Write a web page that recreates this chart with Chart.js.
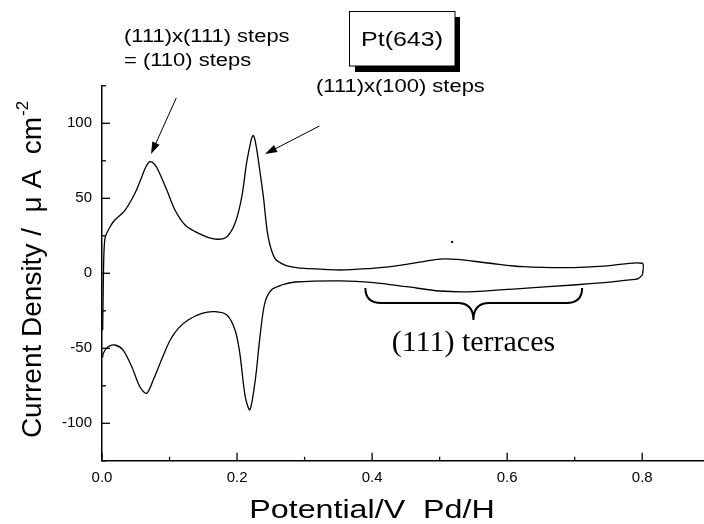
<!DOCTYPE html>
<html><head><meta charset="utf-8">
<script src="https://cdn.jsdelivr.net/npm/chart.js@4.4.1/dist/chart.umd.min.js"></script>
<style>html,body{margin:0;padding:0;background:#fff;}canvas{display:block;}</style>
</head><body>
<canvas id="c" width="704" height="524"></canvas>
<script>
// ---- data ----
const anodicPotential = [0.001,0.002,0.003,0.005,0.012,0.019,0.034,0.049,0.059,0.065,0.071,0.077,0.083,0.096,0.108,0.123,0.138,0.157,0.172,0.185,0.197,0.207,0.214,0.219,0.222,0.224,0.226,0.229,0.232,0.239,0.246,0.256,0.271,0.286,0.30,0.353,0.40,0.427,0.476,0.50,0.525,0.575,0.624,0.698,0.748,0.80,0.8005];
const anodicCurrent   = [-38,-5,15,24.4,31,35.5,42,53.5,64.4,71,74.4,73,68.9,55.5,42.2,32.2,27.8,24,22.7,24.4,33.3,51,73.3,85,90.5,92,90,83,74,51,24.4,10,5.5,4,3.3,2.2,3.3,4.4,7.8,9.5,9.3,6.7,4.4,3.8,4.9,6.7,-1];
const cathodicPotential = [0.8005,0.794,0.777,0.748,0.698,0.624,0.55,0.50,0.451,0.402,0.353,0.286,0.266,0.251,0.241,0.234,0.227,0.219,0.212,0.204,0.197,0.185,0.167,0.148,0.128,0.113,0.101,0.088,0.076,0.066,0.056,0.044,0.031,0.019,0.009,0.002,0.001];
const cathodicCurrent   = [-1,-3.5,-4.6,-6,-7.8,-10,-12.2,-11.8,-8.9,-6.2,-5,-5.8,-7.8,-11,-20,-42,-71,-91,-82,-53,-37.8,-27.8,-25.6,-26.7,-31,-36.7,-44.5,-57.8,-71,-80,-75.6,-62.2,-51,-47.8,-49,-53.3,-56];
const xMajorTicks = [0.0,0.2,0.4,0.6,0.8];
const xMinorTicks = [0.1,0.3,0.5,0.7];
const yMajorTicks = [-100,-50,0,50,100];
const yMinorTicks = [-125,-75,-25,25,75,125];
const xTitle = 'Potential/V  Pd/H';
const yTitle = 'Current Density /  \u03bc A  cm';
const yTitleSup = '-2';
const sampleLabel = 'Pt(643)';
const stepLabel1 = ['(111)x(111) steps', '= (110) steps'];
const stepLabel2 = '(111)x(100) steps';
const terraceLabel = '(111) terraces';

const SANS = "'Liberation Sans', Arial, sans-serif";
const SERIF = "'Liberation Serif', 'Times New Roman', serif";

function stretchedText(ctx, txt, px, py, font, sx, align) {
  ctx.save();
  ctx.font = font;
  ctx.textBaseline = 'alphabetic';
  ctx.textAlign = 'left';
  const w = ctx.measureText(txt).width * sx;
  const left = align === 'center' ? px - w / 2 : (align === 'right' ? px - w : px);
  ctx.translate(left, py);
  ctx.scale(sx, 1);
  ctx.fillText(txt, 0, 0);
  ctx.restore();
}
function arrow(ctx, x1, y1, x2, y2) {
  const a = Math.atan2(y2 - y1, x2 - x1);
  const L = 12, H = 4;
  ctx.beginPath();
  ctx.moveTo(x1, y1);
  ctx.lineTo(x2 - L * Math.cos(a) * 0.8, y2 - L * Math.sin(a) * 0.8);
  ctx.stroke();
  ctx.beginPath();
  ctx.moveTo(x2, y2);
  ctx.lineTo(x2 - L * Math.cos(a) + H * Math.sin(a), y2 - L * Math.sin(a) - H * Math.cos(a));
  ctx.lineTo(x2 - L * Math.cos(a) - H * Math.sin(a), y2 - L * Math.sin(a) + H * Math.cos(a));
  ctx.closePath();
  ctx.fill();
}

const decor = {
  id: 'decor',
  afterDraw(chart) {
    const { ctx, chartArea: ca, scales: { x, y } } = chart;
    ctx.save();
    ctx.strokeStyle = '#000';
    ctx.fillStyle = '#000';
    // inward tick marks
    ctx.lineWidth = 1.3;
    const tick = (px, py, dx, dy) => { ctx.beginPath(); ctx.moveTo(px, py); ctx.lineTo(px + dx, py + dy); ctx.stroke(); };
    xMajorTicks.forEach(v => tick(x.getPixelForValue(v), ca.bottom, 0, -8));
    xMinorTicks.forEach(v => tick(x.getPixelForValue(v), ca.bottom, 0, -4));
    yMajorTicks.forEach(v => tick(ca.left, y.getPixelForValue(v), 8, 0));
    yMinorTicks.forEach(v => tick(ca.left, y.getPixelForValue(v), 4, 0));

    // axis titles
    stretchedText(ctx, xTitle, 372, 518, '26px ' + SANS, 1.24, 'center');
    ctx.save();
    ctx.font = '28px ' + SANS;
    const wm = ctx.measureText(yTitle).width;
    ctx.font = '17px ' + SANS;
    const ws = ctx.measureText(yTitleSup).width;
    ctx.translate(41, 270 + (wm + ws) / 2);
    ctx.rotate(-Math.PI / 2);
    ctx.textAlign = 'left';
    ctx.textBaseline = 'alphabetic';
    ctx.font = '28px ' + SANS;
    ctx.fillText(yTitle, 0, 0);
    ctx.font = '17px ' + SANS;
    ctx.fillText(yTitleSup, wm + 1, -13);
    ctx.restore();

    // step labels
    stretchedText(ctx, stepLabel1[0], 124, 42, '18px ' + SANS, 1.22, 'left');
    stretchedText(ctx, stepLabel1[1], 124, 66, '18px ' + SANS, 1.22, 'left');
    stretchedText(ctx, stepLabel2, 316, 92, '18px ' + SANS, 1.22, 'left');

    // sample box with shadow
    ctx.fillRect(355, 66, 105, 6);
    ctx.fillRect(455, 17, 5, 55);
    ctx.fillStyle = '#fff';
    ctx.fillRect(349.5, 11.5, 105.5, 54.5);
    ctx.fillStyle = '#000';
    ctx.lineWidth = 1;
    ctx.strokeRect(349.5, 11.5, 105.5, 54.5);
    stretchedText(ctx, sampleLabel, 402, 46, '20px ' + SANS, 1.25, 'center');

    // arrows (anchored in data space)
    ctx.lineWidth = 1;
    arrow(ctx, x.getPixelForValue(0.11), y.getPixelForValue(116.9), x.getPixelForValue(0.0726), y.getPixelForValue(79.5));
    arrow(ctx, x.getPixelForValue(0.322), y.getPixelForValue(98.2), x.getPixelForValue(0.2415), y.getPixelForValue(79.5));

    // small dot
    ctx.fillRect(x.getPixelForValue(0.5185) - 1, y.getPixelForValue(20.9) - 1, 2, 2);

    // brace
    const L = x.getPixelForValue(0.39), R = x.getPixelForValue(0.711), C = x.getPixelForValue(0.55);
    const yTop = y.getPixelForValue(-9.8), yMid = y.getPixelForValue(-19.8), yTip = y.getPixelForValue(-31.1);
    ctx.lineWidth = 2;
    ctx.beginPath();
    ctx.moveTo(L, yTop);
    ctx.quadraticCurveTo(L, yMid, L + 16, yMid);
    ctx.lineTo(C - 16, yMid);
    ctx.quadraticCurveTo(C, yMid, C, yTip);
    ctx.quadraticCurveTo(C, yMid, C + 16, yMid);
    ctx.lineTo(R - 16, yMid);
    ctx.quadraticCurveTo(R, yMid, R, yTop);
    ctx.stroke();

    ctx.font = '30px ' + SERIF;
    ctx.textAlign = 'center';
    ctx.textBaseline = 'alphabetic';
    ctx.fillText(terraceLabel, C, y.getPixelForValue(-51.8));
    ctx.restore();
  }
};

const toPts = (xs, ys) => xs.map((v, i) => ({ x: v, y: ys[i] }));
const lineStyle = { showLine: true, borderColor: '#000', borderWidth: 1.3, pointRadius: 0, tension: 0.3, fill: false };

new Chart(document.getElementById('c'), {
  type: 'scatter',
  data: {
    datasets: [
      Object.assign({ label: 'anodic', data: toPts(anodicPotential, anodicCurrent) }, lineStyle),
      Object.assign({ label: 'cathodic', data: toPts(cathodicPotential, cathodicCurrent) }, lineStyle)
    ]
  },
  options: {
    responsive: false,
    animation: false,
    events: [],
    layout: { padding: { top: 85.8, right: 1, left: 0, bottom: 0 } },
    plugins: { legend: { display: false }, tooltip: { enabled: false } },
    scales: {
      x: {
        type: 'linear', min: 0, max: 0.89,
        afterFit(s) { s.height = 63.2; },
        afterBuildTicks(s) { s.ticks = xMajorTicks.map(v => ({ value: v })); },
        ticks: { callback: v => v.toFixed(1), font: { family: SANS, size: 15 }, color: '#000', padding: 8, maxRotation: 0, autoSkip: false },
        grid: { display: false, drawTicks: false },
        border: { display: true, color: '#000', width: 1.5 }
      },
      y: {
        type: 'linear', min: -125, max: 125,
        afterFit(s) { s.width = 102; },
        afterBuildTicks(s) { s.ticks = yMajorTicks.map(v => ({ value: v })); },
        ticks: { callback: v => String(v), font: { family: SANS, size: 15 }, color: '#000', padding: 10, autoSkip: false },
        grid: { display: false, drawTicks: false },
        border: { display: true, color: '#000', width: 1.5 }
      }
    }
  },
  plugins: [decor]
});
</script>
</body></html>
